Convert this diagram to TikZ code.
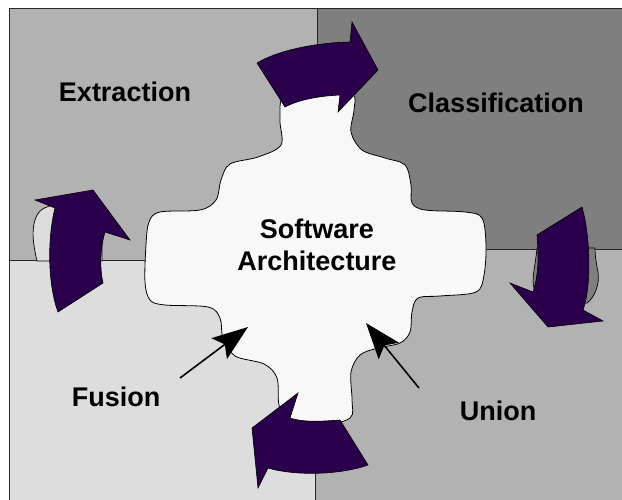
\documentclass[tikz,border=0pt]{standalone}
\usepackage{fontspec}
\setmainfont{Liberation Sans}
\usepackage{tikz}
\usetikzlibrary{arrows.meta}
\usetikzlibrary{positioning}
\definecolor{quadmid}{RGB}{178,178,178}
\definecolor{quaddark}{RGB}{127,127,127}
\definecolor{quadlight}{RGB}{221,221,221}
\definecolor{blobwhite}{RGB}{248,248,248}
\definecolor{archpurple}{RGB}{42,0,76}
\newcommand{\phasefont}{\fontsize{27}{32}\selectfont\bfseries}

\begin{document}
\begin{tikzpicture}[x=1pt,y=-1pt,>={Stealth[length=36pt,width=26pt,inset=7pt]},
		quad/.style={draw=black!85,line width=0.8pt},
		bump/.style={draw=black,line width=0.7pt},
		blob/.style={draw=black,line width=0.8pt,fill=blobwhite},
		turn/.style={draw=black,line width=0.6pt,fill=archpurple},
		pointer/.style={->,line width=1.6pt},
		phase/.style={font=\phasefont,align=center,inner sep=0pt}]
		\clip (0,0) rectangle (622,500);
		
		\filldraw[quad,fill=quadmid]   (9,8)   rectangle (317,260);
		\filldraw[quad,fill=quaddark]  (317,8) rectangle (630,249);
		\filldraw[quad,fill=quadlight] (9,260) rectangle (315,510);
		\filldraw[quad,fill=quadmid]   (315,249) rectangle (630,510);
		
		\filldraw[bump,fill=quadlight] (37,261) .. controls (34,248) and (31,232) .. (35,220)
			.. controls (38,210) and (45,206) .. (56,205) -- (102,230) -- (102,261) -- cycle;
		\filldraw[bump,fill=quaddark] (537,248) .. controls (536,262) and (531,280) .. (534,288)
			.. controls (536,293) and (545,300) .. (560,305) -- (587,303)
			.. controls (594,298) and (600,285) .. (598,272)
			.. controls (596,262) and (595,255) .. (595,248) -- cycle;
		
		\filldraw[blob] plot[smooth cycle,tension=0.55] coordinates {
			(284,96) (318,92) (352,94) (354,110) (351,132) (362,150) (385,158)
			(405,165) (411,185) (412,203) (425,210) (465,212) (482,218) (486,245)
			(484,275) (476,292) (440,296) (418,298) (412,312) (410,332) (400,343)
			(378,348) (360,355) (351,372) (352,400) (350,418) (320,426) (288,422)
			(279,405) (277,378) (264,364) (235,356) (223,338) (220,318) (208,307)
			(165,305) (150,300) (145,282) (146,245) (149,222) (160,212) (200,210)
			(216,200) (221,180) (230,164) (258,157) (281,145) (280,120)};
		
		\filldraw[turn] (257,63) .. controls (275,52) and (310,43) .. (350,42)
			-- (352,22) -- (378,70) -- (338,112) -- (340,95)
			.. controls (318,96) and (298,100) .. (285,107) -- cycle;
		\filldraw[turn] (537,235) -- (582,207) .. controls (590,235) and (592,285) .. (583,310)
			-- (603,321) -- (548,327) -- (510,283) -- (533,292)
			.. controls (540,270) and (538,250) .. cycle;
		\filldraw[turn] (340,420) -- (368,465) .. controls (340,475) and (295,476) .. (268,468)
			-- (258,488) -- (252,428) -- (298,393) -- (290,418)
			.. controls (305,423) and (325,421) .. cycle;
		\filldraw[turn] (58,312) -- (103,283) .. controls (99,265) and (101,245) .. (105,232)
			-- (130,240) -- (93,190) -- (35,200) -- (55,208)
			.. controls (47,240) and (48,285) .. cycle;
		
		\node[phase] (extraction)     at (125,92)  {Extraction};
		\node[phase] (classification) at (496,103) {Classification};
		\node[phase] (core)           at (317,245) {Software\\Architecture};
		\node[phase] (fusion)         at (116,397) {Fusion};
		\node[phase] (union)          at (498,411) {Union};
		
		\coordinate (fusiontail) at (180,378);
		\coordinate (fusionhead) at (248,327);
		\coordinate (uniontail)  at (419,388);
		\coordinate (unionhead)  at (366,323);
		
		\path[pointer]
		(fusiontail) edge (fusionhead)
		(uniontail) edge (unionhead);
		\end{tikzpicture}
\end{document}
